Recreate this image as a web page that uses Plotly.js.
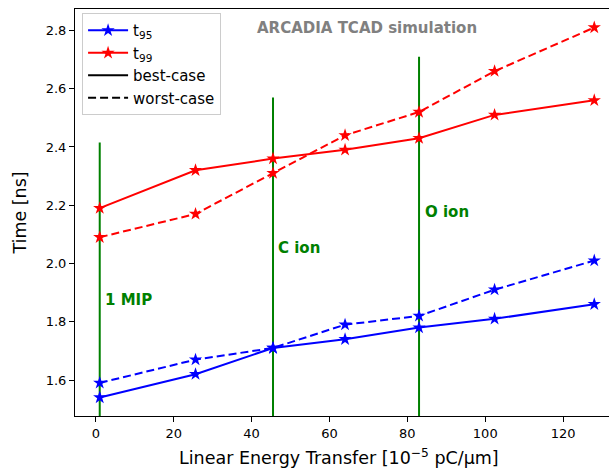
<!DOCTYPE html>
<html>
<head>
<meta charset="utf-8">
<script src="https://cdn.plot.ly/plotly-3.0.1.min.js"></script>
<style>html,body{margin:0;padding:0;overflow:hidden;background:#fff;}</style>
</head>
<body>
<div id="chart" style="width:620px;height:470px;"></div>
<script>
const let_values = [1, 25.6, 45.5, 64, 83, 102.4, 128];
const t95_best = [1.54, 1.62, 1.71, 1.74, 1.78, 1.81, 1.86];
const t95_worst = [1.59, 1.67, 1.71, 1.79, 1.82, 1.91, 2.01];
const t99_best = [2.19, 2.32, 2.36, 2.39, 2.43, 2.51, 2.56];
const t99_worst = [2.09, 2.17, 2.31, 2.44, 2.52, 2.66, 2.81];
const ion_names = ["1 MIP", "C ion", "O ion"];
const ion_let = [1, 45.5, 83];
const ion_line_top = [2.415, 2.57, 2.71];
const ion_label_x = [1.8, 46.2, 84.0];
const ion_label_y = [1.875, 2.054, 2.178];
const yBottom = 1.4765;

const star = {symbol: 'star', size: 10};
const traces = [];
ion_let.forEach((x, i) => {
  traces.push({x: [x, x], y: [yBottom, ion_line_top[i]], mode: 'lines',
    line: {color: '#008000', width: 2}, showlegend: false, hoverinfo: 'skip'});
});
traces.push({x: let_values, y: t95_best, name: 't<sub>95</sub>', mode: 'lines+markers',
  line: {color: '#0000ff', width: 2}, marker: Object.assign({color: '#0000ff'}, star)});
traces.push({x: let_values, y: t99_best, name: 't<sub>99</sub>', mode: 'lines+markers',
  line: {color: '#ff0000', width: 2}, marker: Object.assign({color: '#ff0000'}, star)});
traces.push({x: let_values, y: t95_worst, mode: 'lines+markers', showlegend: false,
  line: {color: '#0000ff', width: 2, dash: '8px,4px'}, marker: Object.assign({color: '#0000ff'}, star)});
traces.push({x: let_values, y: t99_worst, mode: 'lines+markers', showlegend: false,
  line: {color: '#ff0000', width: 2, dash: '8px,4px'}, marker: Object.assign({color: '#ff0000'}, star)});
traces.push({x: [null], y: [null], name: 'best-case', mode: 'lines', line: {color: '#000', width: 2}});
traces.push({x: [null], y: [null], name: 'worst-case', mode: 'lines', line: {color: '#000', width: 2, dash: '8px,4px'}});

const annotations = ion_names.map((t, i) => ({
  x: ion_label_x[i], y: ion_label_y[i], xref: 'x', yref: 'y', text: '<b>' + t + '</b>',
  showarrow: false, xanchor: 'left', yanchor: 'middle',
  font: {family: 'DejaVu Sans', size: 15, color: '#008000'}
}));
annotations.push({x: 69.7, y: 2.807, xref: 'x', yref: 'y', text: '<b>ARCADIA TCAD simulation</b>',
  showarrow: false, xanchor: 'center', yanchor: 'middle',
  font: {family: 'DejaVu Sans', size: 15, color: '#808080'}});
annotations.push({x: 0.485, y: -0.1, xref: 'paper', yref: 'paper',
  text: 'Linear Energy Transfer [10<sup>−5</sup> pC/μm]', showarrow: false,
  xanchor: 'center', yanchor: 'middle', font: {family: 'DejaVu Sans', size: 17.5, color: '#000'}});

const layout = {
  width: 620, height: 470,
  margin: {l: 75, r: 1, t: 9, b: 54},
  paper_bgcolor: '#fff', plot_bgcolor: '#fff',
  font: {family: 'DejaVu Sans', color: '#000'},
  showlegend: true,
  legend: {x: 0.013, y: 0.99, xanchor: 'left', yanchor: 'top', bgcolor: '#fff',
    bordercolor: '#cccccc', borderwidth: 1, itemwidth: 40, font: {size: 15, family: 'DejaVu Sans'}},
  xaxis: {range: [-5.35, 134.35], tickvals: [0, 20, 40, 60, 80, 100, 120],
    ticks: 'outside', ticklen: 5, tickcolor: '#000', showgrid: false, zeroline: false,
    showline: true, linecolor: '#000', linewidth: 1, mirror: true,
    tickfont: {size: 13}},
  yaxis: {range: [1.4765, 2.8735], tickvals: [1.6, 1.8, 2.0, 2.2, 2.4, 2.6, 2.8], ticktext: ['1.6','1.8','2.0','2.2','2.4','2.6','2.8'],
    ticks: 'outside', ticklen: 5, tickcolor: '#000', showgrid: false, zeroline: false,
    showline: true, linecolor: '#000', linewidth: 1, mirror: true,
    tickfont: {size: 13},
    title: {text: 'Time [ns]', font: {size: 17.5}, standoff: 14}},
  annotations: annotations
};
Plotly.newPlot('chart', traces, layout, {displayModeBar: false, staticPlot: true});
</script>
</body>
</html>
